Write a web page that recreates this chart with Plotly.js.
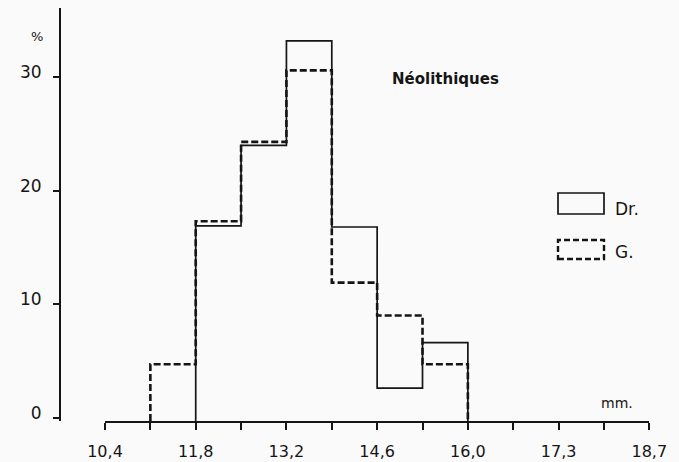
<!DOCTYPE html>
<html>
<head>
<meta charset="utf-8">
<script src="https://cdn.plot.ly/plotly-3.0.1.min.js"></script>
<style>html,body{margin:0;padding:0;background:#fafafa;}#chart{width:679px;height:462px;}</style>
</head>
<body>
<div id="chart"></div>
<script>
// ---- data ----
const binWidth = 0.7;
const drBins = [11.8, 12.5, 13.2, 13.9, 14.6, 15.3];
const drVals = [16.9, 24.0, 33.2, 16.8, 2.6, 6.6];
const gBins = [11.1, 11.8, 12.5, 13.2, 13.9, 14.6, 15.3];
const gVals = [4.7, 17.3, 24.3, 30.6, 11.9, 9.0, 4.7];
const xTickVals = [10.4, 11.1, 11.8, 12.5, 13.2, 13.9, 14.6, 15.3, 16.0, 16.7, 17.4, 18.1, 18.8];
const xTickText = ["10,4", "", "11,8", "", "13,2", "", "14,6", "", "16,0", "", "17,3", "", "18,7"];
const yTickVals = [0, 10, 20, 30];

const yMin = -0.3, yMax = 36.1;

function steps(bins, vals) {
  const xs = [bins[0]], ys = [yMin];
  for (let i = 0; i < bins.length; i++) { xs.push(bins[i]); ys.push(vals[i]); }
  const end = bins[bins.length - 1] + binWidth;
  xs.push(end); ys.push(vals[vals.length - 1]);
  xs.push(end); ys.push(yMin);
  return {xs, ys};
}
const dr = steps(drBins, drVals);
const g = steps(gBins, gVals);

const W = 599, H = 413, L = 60, T = 8;
const px = p => (p - L) / W;
const py = p => (T + H - p) / H;
const ink = '#151515';
const font = 'DejaVu Sans, Liberation Sans, sans-serif';

const traces = [
  {x: g.xs, y: g.ys, mode: 'lines', line: {shape: 'hv', color: ink, width: 2.6, dash: '7px,3px'}, name: 'G.', hoverinfo: 'skip'},
  {x: dr.xs, y: dr.ys, mode: 'lines', line: {shape: 'hv', color: ink, width: 1.7}, name: 'Dr.', hoverinfo: 'skip'}
];

const layout = {
  width: 679, height: 462,
  margin: {l: L, r: 679 - L - W, t: T, b: 462 - T - H},
  paper_bgcolor: '#fafafa', plot_bgcolor: '#fafafa',
  showlegend: false,
  font: {family: font, color: ink},
  xaxis: {
    domain: [px(105), px(649.3)],
    range: [10.4, 18.8],
    showline: true, linewidth: 2, linecolor: ink,
    ticks: 'outside', ticklen: 7, tickwidth: 2, tickcolor: ink,
    tickvals: xTickVals, ticktext: xTickText,
    tickfont: {size: 16, family: font, color: ink},
    ticklabelstandoff: 8,
    showgrid: false, zeroline: false, fixedrange: true
  },
  yaxis: {
    anchor: 'free', position: 0,
    range: [yMin, yMax],
    showline: true, linewidth: 2, linecolor: ink,
    ticks: 'outside', ticklen: 6, tickwidth: 2, tickcolor: ink,
    tickvals: yTickVals,
    tickfont: {size: 17, family: font, color: ink},
    ticklabelstandoff: 8,
    ticklabelshift: -5,
    showgrid: false, zeroline: false, fixedrange: true
  },
  shapes: [
    {type: 'rect', xref: 'paper', yref: 'paper', x0: px(558), x1: px(604), y0: py(214), y1: py(193), line: {color: ink, width: 1.7}},
    {type: 'rect', xref: 'paper', yref: 'paper', x0: px(558), x1: px(604), y0: py(259), y1: py(240), line: {color: ink, width: 2.4, dash: '6px,3px'}}
  ],
  annotations: [
    {text: '%', xref: 'paper', yref: 'paper', x: px(29), y: py(27), showarrow: false, font: {size: 13, family: font, color: ink}},
    {text: '<b>Néolithiques</b>', xref: 'paper', yref: 'paper', x: px(501), y: py(68), showarrow: false, font: {size: 15, family: font, color: ink}},
    {text: 'Dr.', xref: 'paper', yref: 'paper', x: px(613), y: py(209), xanchor: 'left', showarrow: false, font: {size: 17, family: font, color: ink}},
    {text: 'G.', xref: 'paper', yref: 'paper', x: px(613), y: py(252), xanchor: 'left', showarrow: false, font: {size: 17, family: font, color: ink}},
    {text: 'mm.', xref: 'paper', yref: 'paper', x: px(635), y: py(413), showarrow: false, font: {size: 14, family: font, color: ink}}
  ]
};

Plotly.newPlot('chart', traces, layout, {displayModeBar: false, staticPlot: true});
</script>
</body>
</html>
